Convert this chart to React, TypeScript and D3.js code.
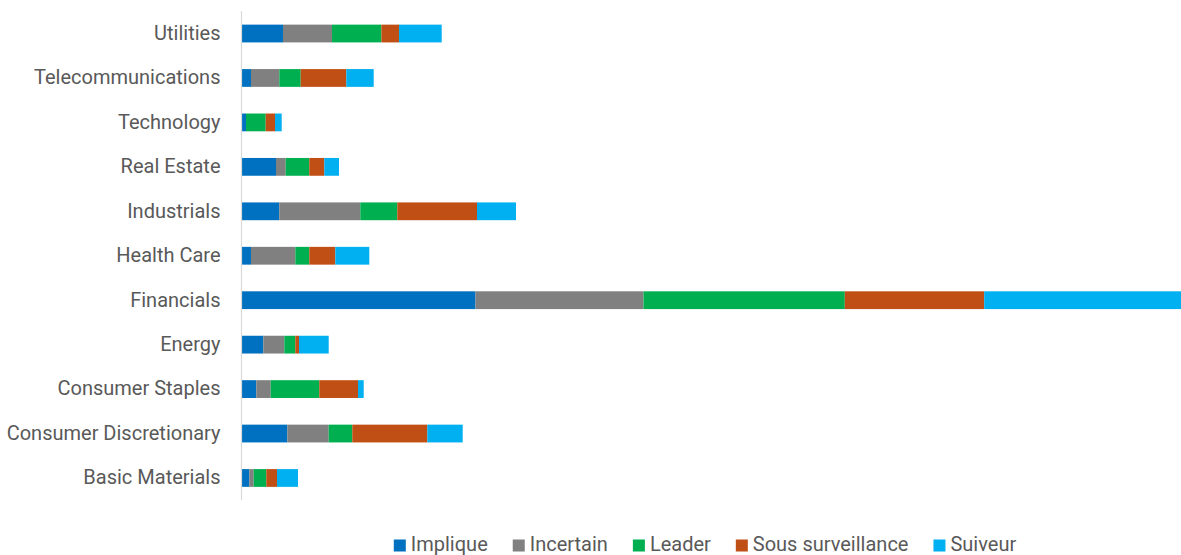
import React, { useEffect, useRef } from 'react';
import * as d3 from 'd3';

// Sectors, listed top to bottom
const sectors = [
  'Utilities',
  'Telecommunications',
  'Technology',
  'Real Estate',
  'Industrials',
  'Health Care',
  'Financials',
  'Energy',
  'Consumer Staples',
  'Consumer Discretionary',
  'Basic Materials',
];

// Status series (stack order, left to right)
const statuses = ['Implique', 'Incertain', 'Leader', 'Sous surveillance', 'Suiveur'];

const implique = [41, 9, 4, 34, 37.3, 9, 233.5, 21.3, 14.3, 45.3, 7.3];
const incertain = [49, 28.3, 0, 9.7, 81, 44.3, 168, 21, 14.4, 41.4, 4.4];
const leader = [49.4, 21.4, 19.7, 23.6, 37, 14, 201.3, 11, 48.6, 23.6, 12.6];
const sousSurveillance = [17.6, 45.6, 9.3, 15, 79.7, 26, 139.4, 3.7, 38.7, 75, 10.7];
const suiveur = [42.7, 27.4, 6.7, 14.7, 39, 34, 196.8, 29.7, 5.7, 35.4, 21];

const colors = ['#0070C0', '#808080', '#00B050', '#C04F15', '#00B0F0'];

const W = 1181;
const H = 555;
const FONT = 'Roboto, "Noto Sans", sans-serif';
const FONT_SIZE = 20;

export default function App() {
  const ref = useRef<SVGSVGElement | null>(null);

  useEffect(() => {
    const svg = d3.select(ref.current);
    svg.selectAll('*').remove();

    const seriesValues = [implique, incertain, leader, sousSurveillance, suiveur];
    const rows = sectors.map((s, i) => {
      const r: Record<string, any> = { sector: s };
      statuses.forEach((k, j) => (r[k] = seriesValues[j][i]));
      return r;
    });
    const stacked = d3.stack<any>().keys(statuses)(rows);

    const maxTotal = d3.max(rows, (r) => d3.sum(statuses, (k) => r[k])) as number;
    const x = d3.scaleLinear().domain([0, maxTotal]).range([242, 1181]);
    const y = d3
      .scaleBand<string>()
      .domain(sectors)
      .range([11.3, 500.2])
      .paddingInner(0.6)
      .paddingOuter(0.3);
    const color = d3.scaleOrdinal<string, string>().domain(statuses).range(colors);

    // stacked bars
    svg
      .append('g')
      .selectAll('g')
      .data(stacked)
      .join('g')
      .attr('fill', (d) => color(d.key))
      .selectAll('rect')
      .data((d) => d)
      .join('rect')
      .attr('x', (d) => x(d[0]))
      .attr('y', (d) => y(d.data.sector) as number)
      .attr('width', (d) => Math.max(0, x(d[1]) - x(d[0])))
      .attr('height', y.bandwidth());

    // category axis
    const axis = svg
      .append('g')
      .attr('transform', 'translate(241.5,0)')
      .call(d3.axisLeft(y).tickSize(0).tickPadding(21));
    axis.select('.domain').attr('stroke', '#d9d9d9').attr('stroke-width', 1.2).attr('d', 'M0,11V500');
    axis
      .selectAll('text')
      .attr('fill', '#595959')
      .attr('font-family', FONT)
      .attr('font-size', FONT_SIZE);

    // legend
    const legend = svg.append('g').attr('font-family', FONT).attr('font-size', FONT_SIZE);
    const items = legend.selectAll('g').data(statuses).join('g');
    items
      .append('rect')
      .attr('width', 12)
      .attr('height', 12)
      .attr('y', 539.5)
      .attr('fill', (d) => color(d));
    items
      .append('text')
      .attr('x', 17)
      .attr('y', 551)
      .attr('fill', '#595959')
      .text((d) => d);
    const widths: number[] = [];
    items.each(function () {
      widths.push((d3.select(this).select('text').node() as SVGTextElement).getComputedTextLength() + 17);
    });
    const gap = 25;
    const total = d3.sum(widths) + gap * (widths.length - 1);
    let cx = 705 - total / 2;
    items.attr('transform', (_d, i) => {
      const t = `translate(${cx},0)`;
      cx += widths[i] + gap;
      return t;
    });
  }, []);

  return (
    <div style={{ position: 'absolute', left: 0, top: 0 }}>
      <svg ref={ref} width={W} height={H} style={{ display: 'block', background: '#fff' }} />
    </div>
  );
}
